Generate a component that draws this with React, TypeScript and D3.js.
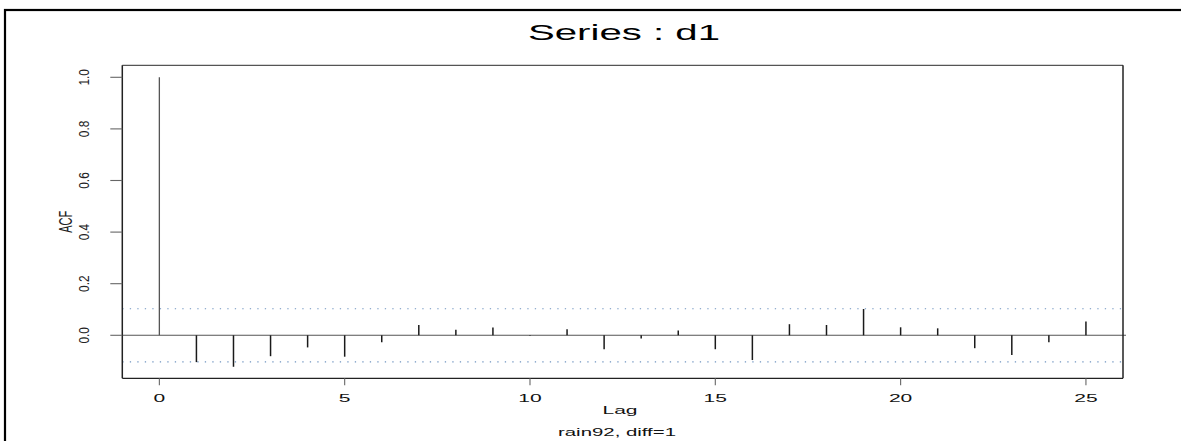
import React from "react";
import * as d3 from "d3";

const lags = [0, 1, 2, 3, 4, 5, 6, 7, 8, 9, 10, 11, 12, 13, 14, 15, 16, 17, 18, 19, 20, 21, 22, 23, 24, 25];
const acf = [1.0, -0.104, -0.122, -0.081, -0.047, -0.083, -0.027, 0.04, 0.021, 0.03, -0.002, 0.023, -0.054, -0.012, 0.019, -0.054, -0.096, 0.043, 0.04, 0.102, 0.031, 0.027, -0.05, -0.076, -0.027, 0.053];
const xTicks = [0, 5, 10, 15, 20, 25];
const yTicks = [0.0, 0.2, 0.4, 0.6, 0.8, 1.0];
const ciBound = 0.103;
const title = "Series : d1";
const xLabel = "Lag";
const yLabel = "ACF";
const subTitle = "rain92, diff=1";

export default function App() {
  const W = 1181, H = 441;
  const L = 122.3, R = 1123, T = 65.3, B = 378.3;
  const x = d3.scaleLinear().domain([-1, 26]).range([L, R]);
  const y = d3.scaleLinear().domain([-0.1667, 1.0465]).range([B, T]);
  const font = "'Liberation Sans', Arial, sans-serif";
  return (
    <svg width={W} height={H} style={{ position: "fixed", left: 0, top: 0, background: "#fff" }} fontFamily={font}>
      <rect x={0} y={0} width={W} height={H} fill="#fff" />
      <rect x={5} y={10} width={1300} height={600} fill="none" stroke="#000" strokeWidth={2.2} />
      <text x={624} y={39.5} fontSize={22} textAnchor="middle" textLength={192} lengthAdjust="spacingAndGlyphs" fill="#000">{title}</text>
      {[ciBound, -ciBound].map((v, i) => (
        <line key={"ci" + i} x1={L} x2={R + 3} y1={y(v)} y2={y(v)} stroke="#6f94c0" strokeWidth={1.1} strokeDasharray="1.3,6.2" />
      ))}
      <line x1={L} x2={R + 3} y1={y(0)} y2={y(0)} stroke="#555" strokeWidth={1.1} />
      {lags.map((l, i) => (
        <line key={"s" + l} x1={x(l)} x2={x(l)} y1={y(0)} y2={y(acf[i])} stroke={i === 0 ? "#555" : "#1a1a1a"} strokeWidth={i === 0 ? 1.3 : 1.5} />
      ))}
      <line x1={L} x2={R} y1={T} y2={T} stroke="#555" strokeWidth={1.2} />
      <line x1={L} x2={R} y1={B} y2={B} stroke="#222" strokeWidth={1.3} />
      <line x1={L} x2={L} y1={T} y2={B} stroke="#222" strokeWidth={1.5} />
      <line x1={R} x2={R} y1={T} y2={B} stroke="#222" strokeWidth={1.5} />
      {yTicks.map((v) => (
        <g key={"yt" + v}>
          <line x1={L - 12} x2={L} y1={y(v)} y2={y(v)} stroke="#666" strokeWidth={1.1} />
          <text transform={`translate(88.5,${y(v)}) rotate(-90)`} fontSize={15} textAnchor="middle" textLength={16.5} lengthAdjust="spacingAndGlyphs" fill="#222">{v.toFixed(1)}</text>
        </g>
      ))}
      <text transform={`translate(72,${(T + B) / 2}) rotate(-90)`} fontSize={19} textAnchor="middle" textLength={22} lengthAdjust="spacingAndGlyphs" fill="#222">{yLabel}</text>
      {xTicks.map((v) => (
        <g key={"xt" + v}>
          <line x1={x(v)} x2={x(v)} y1={B} y2={B + 7} stroke="#666" strokeWidth={1.1} />
          <text x={x(v)} y={402} fontSize={11} textAnchor="middle" textLength={11.7 * String(v).length} lengthAdjust="spacingAndGlyphs" fill="#111">{v}</text>
        </g>
      ))}
      <text x={620} y={413.5} fontSize={11.5} textAnchor="middle" textLength={35} lengthAdjust="spacingAndGlyphs" fill="#111">{xLabel}</text>
      <text x={617} y={436} fontSize={11.5} textAnchor="middle" textLength={118} lengthAdjust="spacingAndGlyphs" fill="#111">{subTitle}</text>
    </svg>
  );
}
